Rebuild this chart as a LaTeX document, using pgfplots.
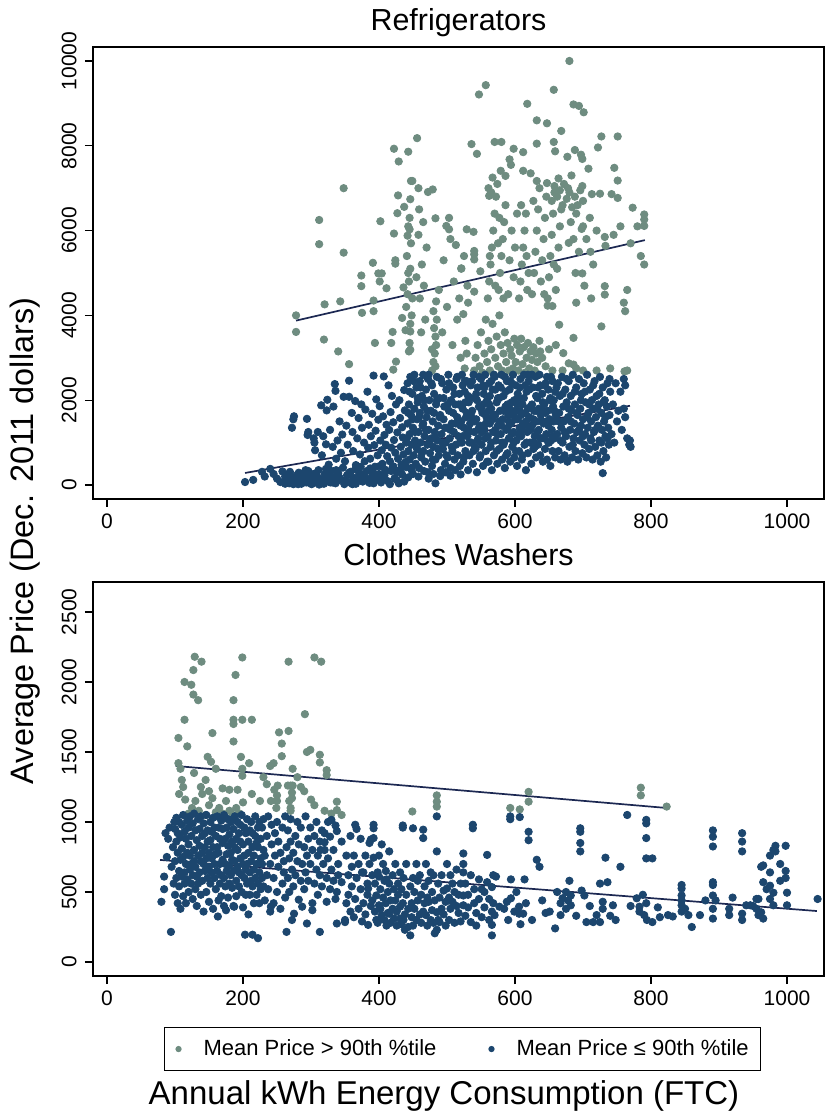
\documentclass[border=0pt]{standalone}
\usepackage{pgfplots}
\pgfplotsset{compat=1.18}
\usepackage{fontspec}
\setmainfont{Liberation Sans}
\definecolor{hi}{RGB}{110,140,128}
\definecolor{lo}{RGB}{28,70,110}
\definecolor{fit}{RGB}{28,40,82}
\pgfplotsset{
  panel/.style={scale only axis, width=365.5pt,
    xmin=-20.6, xmax=1054.4, xtick={0,200,...,1000},
    xtick pos=left, ytick pos=left, tick align=outside, major tick length=4pt,
    tick style={black, line width=0.6pt}, axis line style={line width=0.8pt},
    tick label style={font=\fontsize{10.5}{12}\selectfont},
    /pgf/number format/assume math mode=true, /pgf/number format/1000 sep={},
    scaled ticks=false,
    yticklabel style={rotate=90, anchor=south, inner sep=0pt},
    xticklabel style={anchor=north, inner sep=0pt},
    xticklabel shift=3pt, yticklabel shift=4pt,
    every axis title/.style={at={(0.5,1)}, anchor=base, yshift=8.2pt, font=\fontsize{15.2}{18}\selectfont},
  },
  himark/.style={only marks, mark=*, mark size=1.85pt, color=hi},
  lomark/.style={only marks, mark=*, mark size=1.85pt, color=lo},
  fitline/.style={no marks, draw=fit, line width=0.85pt, forget plot},
}
\begin{document}
\begin{tikzpicture}
\useasboundingbox (0,0) rectangle (412.5pt,557pt);
% ---------------- Refrigerators ----------------
\begin{axis}[panel, at={(46.5pt,533.5pt)}, anchor=north west, height=226pt,
  ymin=-330, ymax=10330, ytick={0,2000,...,10000}, title={Refrigerators}]
\addplot[himark] coordinates {
(278,4000)(278,3610)(312,6250)(312,5680)(320,4260)(319,3430)(340,3150)(348,7000)(348,5480)(356,2850)(343,4330)(375,4060)(392,4100)(394,3350)(374,4940)(374,4690)(391,5240)(392,4350)(399,4990)(404,4990)(401,4800)(411,4640)(402,6220)(418,3350)(420,3610)(425,2910)(434,3940)(439,3650)(421,2720)(422,7930)(429,7630)(443,7860)(447,7170)(428,6830)(437,6560)(446,6740)(427,6410)(422,5930)(442,5880)(445,6030)(424,5220)(424,5300)(436,4660)(445,3350)(446,3190)(446,3620)(444,3150)
(449,7170)(456,8180)(458,7000)(472,6910)(479,6970)(459,6500)(483,6290)(503,6300)(499,6110)(503,6030)(529,6030)(539,5970)(513,5660)(521,5110)(540,5520)(540,5320)(549,5040)(540,4560)(521,5100)(540,5440)
(536,8040)(544,7810)(547,9210)(557,9430)(570,8090)(580,8090)(592,7680)(594,7550)(579,7410)(586,7290)(567,7250)(561,7000)(562,6820)(598,7930)(612,7850)(618,8990)(612,7410)(623,7350)(632,7170)(632,8600)(647,8530)(632,8050)(657,8090)(659,7870)(657,9320)(668,8350)(647,7120)(664,7230)(683,7300)(699,7050)(677,7740)(688,7900)(697,7790)(699,7690)(680,10000)(686,8975)(694,8940)(701,8790)(727,8220)(751,8220)(722,7960)(746,7480)(751,7180)(708,7460)(713,6860)(725,6870)(742,6860)(751,6770)(773,6540)(790,6380)(790,6260)(790,6110)(790,5200)(732,5850)(733,5640)(698,6040)(679,5710)(711,5500)(689,5000)(699,4990)(732,4690)(732,4490)
(478,2700)(480,2900)(482,3100)(484,3300)(483,3500)(481,3700)(485,3900)(480,4100)(484,4330)(478,3200)(483,2800)
(524,4030)(527,3400)(529,3100)(531,4300)(526,2750)
(637,3150)(648,4230)(655,4220)(665,3780)(671,3110)(679,2870)(686,3470)(686,2840)(727,3740)(761,2680)
(540,2700)(542,3000)(545,3300)(548,2800)(550,3600)(552,2650)(555,3100)(557,3900)(559,2900)(561,3400)(563,2700)(565,3200)(567,3800)(569,2600)(571,3000)(573,3500)(575,2800)(577,4000)(579,3300)(581,2700)(583,3100)(585,3600)(587,2900)(589,3350)(591,2700)(593,3200)(595,3050)(597,2750)(599,3450)(601,2900)(603,3300)(605,2700)(607,3150)(609,3450)(611,2850)(613,3250)(615,2650)(617,3000)(619,3350)(621,2750)(623,3150)(625,2950)(627,3250)(629,2700)(631,3100)(633,2900)(636,3400)(640,3000)(645,2800)(650,3200)(655,2700)(660,3300)(670,2700)(690,2750)(700,2700)(720,2700)(740,2750)(765,2700)
(440,4200)(442,4500)(444,4800)(446,5100)(441,5400)(447,5700)(443,6100)(445,6300)(448,4000)(446,3800)(449,4400)(443,5000)
(455,4900)(460,4400)(463,5200)(466,4700)(468,3900)(470,5600)(458,5900)(465,6200)(462,3600)
(488,4600)(495,5300)(500,4200)(505,5800)(510,4800)(515,3900)(518,4400)(525,5400)(530,4700)(493,3600)(508,3300)(520,3000)
(560,4400)(562,4800)(564,5200)(566,5600)(568,6000)(570,6400)(572,6800)(574,7100)(576,4600)(578,5000)(580,5400)(582,5800)(584,6200)(586,6600)(563,5400)(571,4700)(577,6300)(583,4400)(565,6900)(575,5700)
(590,4500)(592,5300)(595,6000)(598,4900)(600,5600)(603,6400)(606,4400)(608,4800)(610,5200)(612,5600)(614,6000)(616,6400)(618,4600)(620,5000)(609,6600)(617,5400)
(625,4500)(628,5000)(630,5500)(632,6000)(634,6500)(636,7000)(638,4800)(640,5300)(642,5800)(644,6300)(646,6800)(648,4400)(650,4900)(652,5400)(654,5900)(656,6400)(658,6900)(660,4600)(662,5100)(664,5600)(666,6100)(627,6700)(643,4500)(657,5200)
(654,6700)(658,7050)(662,6800)(666,6950)(670,6600)(672,7100)(676,6750)(680,6900)(684,6550)(688,6800)(692,6600)(696,6950)(700,6700)(668,6500)(678,7000)
(682,6200)(686,5800)(690,6400)(694,5500)(700,6100)(705,5800)(710,6300)(715,5200)(720,6000)(702,4700)(712,4400)(690,4300)
(745,5900)(755,6100)(760,4300)(765,4600)(770,5700)(780,6100)(785,5400)(762,4100)
};
\addplot[lomark] coordinates {
(203,70)(215,120)(228,310)(232,200)(240,380)(245,260)(250,150)(255,70)(258,320)(262,200)
(265,100)(268,40)(270,220)(272,1350)(274,1550)(275,1620)(276,160)(279,60)(282,290)(284,130)(286,30)(288,210)(290,80)(292,350)(294,1560)(295,1180)(296,1250)(297,150)(299,40)(300,260)
(302,120)(304,1100)(305,1000)(306,820)(307,60)(309,200)(310,1250)(311,350)(313,100)(315,1880)(316,700)(318,1150)(319,30)(320,240)(322,960)(323,1760)(324,2010)(325,140)(326,480)(328,1300)(329,60)(330,330)(332,900)(333,1850)(334,180)(335,2380)(336,2220)(337,620)(338,90)(339,1050)
(262,30)(266,250)(271,90)(277,180)(281,20)(287,140)(293,60)(298,230)(303,50)(308,160)(312,10)(317,120)(321,260)(327,70)(331,190)(336,40)(340,280)(346,110)(349,20)(353,230)(357,60)(362,170)(366,30)(371,290)(374,100)(379,200)(386,50)(391,310)(397,140)(403,60)(408,230)(413,90)(418,330)(423,160)(429,40)(434,250)
(264,150)(269,310)(274,20)(280,240)(285,70)(291,180)(296,330)(301,20)(306,270)(311,150)(316,40)(322,380)(326,200)(332,60)(337,350)(342,170)(347,410)(351,90)(356,290)(361,20)(365,370)(369,140)(373,430)(377,250)(382,120)(387,390)(392,40)(395,230)(400,440)(405,150)(410,330)(416,20)(421,440)(426,120)(431,350)(437,80)(440,420)
(342,1500)(344,760)(346,1190)(348,2080)(350,560)(352,1400)(354,950)(356,2460)(356,2080)(358,310)(360,1700)(361,1250)(362,800)(364,150)(365,1980)(366,470)(368,1100)(370,1580)(371,250)(372,720)(374,1900)(375,1350)(376,80)(378,1000)(379,560)(380,1780)(382,330)(383,2200)(384,880)(385,1420)(387,620)(388,1150)(389,180)(390,1680)(392,2580)(393,940)(394,430)(395,1280)(396,2020)(398,700)(399,1540)(400,260)(401,1860)(402,1050)(404,820)(405,500)(406,1620)(407,2560)(408,1180)(409,360)(410,950)(411,1420)(412,680)(414,2350)(415,1300)(416,560)(417,1720)(418,880)(419,2100)(420,420)(421,1480)(422,1060)(424,760)(425,1900)(426,300)(427,1240)(428,620)(430,2000)(431,1580)(432,900)(433,480)(434,1360)(435,1120)(436,720)(437,2240)(438,1760)(439,540)(440,1000)
(442,1450)(442,2400)(443,800)(444,1900)(445,1200)(445,600)(446,2550)(447,1650)(448,950)(448,350)(449,2150)(450,1350)(451,700)(452,1800)(452,2600)(453,1050)(454,500)(455,2300)(456,1550)(456,850)(457,1950)(458,1250)(459,400)(460,2450)(460,1700)(461,1000)(462,650)(463,2100)(464,1400)(465,2600)(465,800)(466,1850)(467,1150)(468,550)(469,2250)(470,1600)(471,950)(472,2500)(472,300)(473,1300)(474,2000)(475,750)(476,1750)(477,1100)(478,2350)(478,450)(479,1500)(480,900)(481,2150)(482,1250)(483,40)(483,600)(484,1900)(485,2550)(486,1050)(487,1400)(488,700)(489,2050)(490,1650)(491,350)(492,1200)(493,2400)(494,850)(495,1550)(496,1850)(497,500)(498,1000)(499,2250)(500,1350)(501,650)(502,2600)(503,1750)(504,1100)(505,400)(506,2000)(507,1450)(508,800)(509,2300)(510,1250)(511,600)(512,1900)(513,950)(514,2500)(515,1600)(516,700)(517,1150)(518,2150)(519,450)(520,1400)
(441,1100)(443,1700)(445,2200)(447,400)(449,1550)(451,2450)(453,1250)(455,900)(457,2050)(459,1600)(461,2300)(463,750)(465,1450)(467,2000)(469,1300)(471,1750)(473,2600)(475,1050)(477,2400)(479,600)(481,1700)(483,1100)(485,2000)(487,850)(489,1600)(491,2500)(493,1000)(495,2050)(497,1350)(499,700)(501,1900)(503,2400)(505,1300)(507,900)(509,1700)(511,2150)(513,1450)(515,2550)(517,1900)(519,1000)
(443,180)(450,260)(458,200)(466,330)(473,150)(480,260)(490,210)(498,300)(505,220)(512,350)(520,250)
(522,2600)(522,1000)(523,1800)(524,550)(525,1350)(526,2200)(527,800)(528,1600)(529,2450)(530,1150)(531,350)(532,1950)(533,700)(534,1450)(535,2350)(536,1000)(537,1750)(538,500)(539,2600)(540,1250)(541,2050)(542,850)(543,1550)(544,300)(545,2300)(546,1100)(547,1850)(548,650)(549,1400)(550,2500)(551,950)(552,1700)(553,450)(554,2150)(555,1300)(556,2600)(557,800)(558,1600)(559,2000)(560,1150)(561,550)(562,2400)(563,1450)(564,900)(565,1800)(566,350)(567,2250)(568,1250)(569,700)(570,2550)(571,1650)(572,1050)(573,1950)(574,500)(575,1400)(576,2350)(577,850)(578,1750)(579,1200)(580,2600)(581,600)(582,1550)(583,2100)(584,1000)(585,400)(586,1850)(587,1300)(588,2450)(589,750)(590,1650)(591,1100)(592,2250)(593,550)(594,1450)(595,1950)(596,900)(597,2600)(598,1250)(599,650)(600,1750)(601,2350)(602,1050)(603,450)(604,1550)(605,2050)(606,800)(607,1350)(608,2500)(609,1150)(610,600)(611,1900)(612,1450)(613,2600)(614,950)(615,1700)(616,350)(617,2200)(618,1250)(619,750)(620,2450)(621,1600)(622,1000)(623,1850)(624,500)(625,1400)(626,2300)(627,850)(628,1750)(629,1150)(630,2550)(631,650)(632,1500)(633,2050)(634,950)(635,1300)(636,2600)(637,700)(638,1650)(639,1100)(640,2150)(641,550)(642,1450)(643,1900)(644,850)(645,2400)(646,1200)(647,600)(648,1750)(649,2250)(650,1000)(651,1550)(652,450)(653,2550)(654,1300)(655,800)(656,1850)(657,2000)(658,1100)(659,650)(660,1650)
(521,1500)(523,2350)(525,650)(527,1950)(529,1200)(531,2100)(533,1000)(535,1650)(537,2450)(539,800)(541,1500)(543,2150)(545,1050)(547,2550)(549,700)(551,1250)(553,1900)(555,2300)(557,1450)(559,550)(561,1750)(563,2100)(565,1000)(567,1550)(569,2600)(571,1300)(573,800)(575,2050)(577,1500)(579,2300)(581,1000)(583,1750)(585,2550)(587,700)(589,1900)(591,1500)(593,2450)(595,1200)(597,1650)(599,2000)(601,800)(603,1900)(605,1200)(607,2300)(609,1650)(611,700)(613,1400)(615,2350)(617,1000)(619,1800)(621,2250)(623,1300)(625,2600)(627,1550)(629,900)(631,2100)(633,1250)(635,1800)(637,2350)(639,1500)(641,1950)(643,1100)(645,1700)(647,2550)(649,1400)(651,2000)(653,1050)(655,2450)(657,1500)(659,2200)
(520,1900)(523,1150)(526,2450)(529,1700)(532,1300)(535,2050)(538,1550)(541,900)(544,2000)(547,1350)(550,1800)(553,2350)(556,1100)(559,1450)(562,1900)(565,2450)(568,1650)(571,2250)(574,1200)(577,2050)(580,1400)(583,950)(586,2200)(589,1350)(592,1800)(595,2400)(598,1000)(601,1550)(604,2150)(607,1750)(610,1300)(613,2050)(616,1500)(619,2600)(622,1350)(625,1900)(628,1000)(631,1750)(634,2300)(637,1100)(640,1750)(643,2350)(646,1500)(649,1000)(652,2050)(655,1150)(658,1750)(661,2300)(664,1500)(667,1050)(670,2150)(673,1250)(676,2500)(679,1800)(682,1500)(685,950)(688,2200)(691,1700)(694,1300)(697,2000)(700,1150)(703,2200)(706,1600)(709,1900)(712,1050)(715,2350)(718,1300)(721,1800)(724,2150)(727,1000)(730,1950)(733,1600)(736,1100)(739,2500)
(662,1200)(663,2400)(664,800)(665,1700)(666,2100)(667,600)(668,1350)(669,2550)(670,1000)(671,1850)(672,1500)(673,700)(674,2250)(675,1150)(676,1950)(677,550)(678,1600)(679,2450)(680,900)(681,1300)(682,2100)(683,1750)(684,650)(685,2600)(686,1100)(687,1450)(688,1900)(689,800)(690,2300)(691,1250)(692,1650)(693,600)(694,2500)(695,1050)(696,1800)(697,1400)(698,2150)(699,750)(700,1550)(701,2400)(702,950)(703,1200)(704,1950)(705,650)(706,2600)(707,1350)(708,1700)(709,850)(710,2250)(711,1100)(712,1500)(713,2000)(714,600)(715,1800)(716,1250)(717,2450)(718,900)(719,1600)(720,2100)(721,700)(722,1400)(723,1900)(724,1050)(725,2550)(726,550)(727,1700)(728,1300)(729,280)(729,2300)(730,800)(731,1500)(732,2000)(733,1150)(734,650)(735,1850)(736,2400)(737,1350)(738,950)(739,1650)(740,2200)
(742,1200)(744,1900)(746,1000)(748,2400)(750,1500)(752,1750)(755,2200)(757,1300)(760,2500)(760,1800)(762,2350)(762,1600)(765,1100)(768,950)(769,1050)(770,900)
};
\addplot[fitline] coordinates {(278,3877)(791,5775)};
\addplot[fitline] coordinates {(203,284)(769,1868)};
\end{axis}
% ---------------- Clothes Washers ----------------
\begin{axis}[panel, at={(46.5pt,266pt)}, anchor=north west, height=197pt,
  ymin=-100, ymax=2714, ytick={0,500,...,2500}, title={Clothes Washers},
  legend columns=2,
  legend image code/.code={\draw[#1,mark size=1.25pt] plot coordinates {(0pt,0pt)};},
  legend style={at={(0.5053,-0.1294)}, anchor=north, draw=black, line width=0.6pt,
    font=\fontsize{11}{13}\selectfont, inner xsep=5.9pt, inner ysep=6pt,
    nodes={inner sep=0pt},
    /tikz/every odd column/.append style={column sep=11.25pt},
    /tikz/every even column/.append style={column sep=26.25pt}},
  legend cell align=left]
\addplot[himark] coordinates {
(129,2180)(139,2145)(127,2085)(114,2000)(124,1980)(127,1910)(134,1870)(199,2175)(189,2050)(267,2145)(305,2175)(315,2145)(186,1870)(114,1730)(186,1730)(186,1700)(199,1730)(213,1730)(291,1770)(155,1635)(105,1600)(118,1540)(186,1575)(253,1640)(267,1650)(257,1560)(257,1470)(197,1465)(209,1420)(148,1465)(153,1430)(294,1500)(299,1515)(313,1480)(313,1425)(323,1370)(323,1335)(105,1420)(108,1380)(110,1300)(112,1250)(106,1200)(115,1160)(180,1230)(192,1230)(199,1380)(199,1330)(213,1200)(246,1230)(251,1260)(250,1190)(250,1150)(266,1260)(270,1260)(273,1260)(272,1210)(272,1170)(268,1150)(273,1380)(241,1150)(249,1100)(270,1080)(270,1100)(338,1145)(338,1085)(485,1190)(485,1145)(485,1110)(449,1075)(593,1100)(607,1090)(620,1215)(620,1145)(785,1245)(785,1190)(823,1110)
(120,1060)(125,1100)(130,1150)(135,1080)(140,1200)(145,1050)(150,1120)(155,1170)(160,1070)(165,1100)(170,1060)(175,1150)(180,1080)(185,1050)(190,1100)(195,1060)(200,1140)(138,1250)(145,1300)(160,1380)(128,1350)(170,1240)(150,1220)
(230,1320)(235,1270)(225,1150)(240,1400)(245,1420)(280,1320)(285,1250)(290,1220)(300,1160)(305,1120)(330,1060)(320,1080)(345,1050)
};
\addlegendentry{Mean Price > 90th \%tile}
\addplot[lomark] coordinates {
(80,430)(84,610)(84,520)(94,215)(88,750)(90,880)(92,960)(95,680)(97,820)(99,1000)(98,560)(86,920)
(100,720)(100,950)(100,480)(102,860)(102,600)(102,1030)(104,780)(104,420)(104,920)(106,650)(106,1000)(106,540)(108,890)(108,730)(108,380)(110,610)(110,980)(110,810)(112,750)(112,470)(112,1050)(114,930)(114,640)(114,560)(116,700)(116,880)(116,420)(118,1010)(118,590)(118,780)(120,840)(120,500)(120,960)(122,660)(122,760)(122,1040)(124,560)(124,900)(124,700)(126,990)(126,620)(126,450)(128,800)(128,720)(128,1060)(130,520)(130,940)(130,680)(132,870)(132,610)(132,400)(134,760)(134,1020)(134,560)(136,640)(136,830)(136,950)(138,1040)(138,480)(138,720)(140,580)(140,900)(140,780)(142,700)(142,360)(142,990)(144,920)(144,650)(144,820)(146,500)(146,1050)(146,740)(148,860)(148,600)(148,940)(150,680)(150,780)(150,430)
(152,1000)(152,560)(152,870)(154,740)(154,930)(154,640)(156,380)(156,820)(156,1030)(158,600)(158,700)(158,960)(160,900)(160,520)(160,770)(162,650)(162,1040)(162,820)(164,780)(164,440)(164,960)(166,560)(166,880)(166,700)(168,1010)(168,620)(168,470)(170,730)(170,850)(170,950)(172,600)(172,1050)(172,400)(174,880)(174,700)(174,540)(176,770)(176,960)(176,650)(178,460)(178,1020)(178,830)(180,690)(180,560)(180,910)(182,1000)(182,780)(182,620)(184,530)(184,860)(184,730)(186,950)(186,650)(186,400)(188,720)(188,1040)(188,820)(190,580)(190,880)(190,470)
(192,800)(192,1000)(192,680)(194,640)(194,540)(194,920)(196,980)(196,740)(196,860)(198,500)(198,620)(198,1050)(200,840)(200,700)(200,390)(202,600)(202,960)(202,760)(204,920)(204,480)(204,660)(206,700)(206,1020)(206,560)(208,860)(208,340)(208,780)(210,640)(210,940)(210,480)(212,1000)(212,720)(212,580)(214,540)(214,820)(214,920)(216,760)(216,420)(216,660)(218,900)(218,1040)(218,600)(220,480)(220,700)(220,850)(222,820)(222,560)(222,960)(224,640)(224,1000)(224,420)(226,740)(226,880)(226,520)(228,960)(228,600)(228,700)(230,540)(230,800)(230,1020)
(163,325)(175,370)(187,395)(203,195)(214,195)(222,170)(245,420)(241,395)
(232,760)(232,440)(235,900)(235,620)(237,1040)(237,520)(240,700)(240,360)(242,840)(242,980)(245,600)(247,760)(247,920)(250,500)(250,1000)(252,680)(252,860)(255,380)(255,780)(258,960)(258,560)(260,720)(260,640)(262,1040)(262,460)(264,215)(264,820)(266,600)(266,940)(268,740)(268,500)(270,860)(270,1020)(272,300)(272,660)(274,780)(274,540)(275,345)(277,900)(277,620)(280,720)(280,1000)(282,445)(282,840)(285,580)(285,960)(287,395)(287,700)(290,820)(290,520)(292,1040)(292,640)(294,275)(294,760)(296,880)(296,580)(299,700)(299,960)
(302,420)(302,370)(302,800)(305,560)(305,900)(308,660)(308,1000)(310,760)(310,480)(313,215)(313,620)(313,860)(316,940)(316,540)(318,700)(320,920)(320,800)(320,855)(314,800)(323,430)(323,600)(325,1000)(325,740)(328,895)(328,520)(330,1015)(330,660)(333,580)(333,800)(336,975)(336,450)(338,275)(338,935)(338,500)(340,700)(340,620)(345,570)(345,860)(350,285)(350,300)
(352,760)(352,420)(355,620)(355,480)(358,900)(358,360)(360,540)(360,680)(363,320)(363,760)(365,450)(365,980)(367,950)(367,600)(370,380)(370,700)(373,520)(373,880)(375,290)(375,640)(377,640)(377,420)(380,760)(380,340)(383,560)(383,480)(384,265)(384,525)(386,700)(386,850)(388,875)(388,400)(390,440)(390,620)(392,980)(392,955)(392,885)(392,745)(394,360)(394,560)(396,475)(396,300)(398,640)(398,280)(400,300)(400,405)(400,610)(400,760)(402,520)(402,380)(404,335)(404,840)(406,460)(406,700)(408,580)(408,300)(410,420)(410,650)(411,590)(411,260)(413,350)(413,500)(415,345)(415,790)(415,560)(417,440)(417,280)(420,620)(420,380)(422,310)(422,520)(424,700)(424,440)(426,260)(426,360)(428,560)(428,480)
(431,310)(431,395)(431,640)(433,520)(433,270)(435,975)(435,960)(435,420)(436,300)(436,600)(438,230)(438,340)(440,480)(440,700)(443,250)(443,380)(446,190)(446,540)(448,320)(448,420)(450,955)(450,600)(450,260)(452,380)(452,500)(455,700)(455,300)(457,440)(457,580)(460,340)(460,620)(462,480)(462,280)(465,945)(465,885)(465,360)(467,540)(467,420)(469,335)(469,700)(471,260)(471,460)(473,430)(473,580)(476,300)(476,640)(478,500)(478,370)(480,620)(480,280)(482,205)(482,440)(485,355)(485,1040)(485,790)(485,230)(487,560)(487,300)(489,285)(489,460)(492,380)(492,620)(495,510)(495,340)(498,430)(498,260)(500,525)(500,700)(503,300)(503,460)(505,620)(505,380)(508,430)(508,560)(511,280)(511,500)(514,400)(514,660)(517,350)(517,480)(520,560)(520,290)
(524,475)(524,405)(524,700)(524,640)(524,775)(527,330)(527,560)(531,390)(531,480)(535,285)(535,620)(538,980)(538,955)(540,420)(540,520)(543,350)(543,260)(547,450)(547,590)(551,320)(551,520)(555,500)(555,390)(559,570)(559,765)(562,300)(562,450)(566,265)(566,190)(566,360)(566,535)(568,420)(568,620)
(570,335)(572,610)(577,395)(584,380)(588,430)(590,300)(593,1040)(593,1020)(594,590)(594,455)(599,360)(602,500)(606,395)(606,345)(607,1035)(608,270)(612,345)(614,590)(616,420)(620,930)(620,870)(625,300)(632,730)(636,680)(640,440)(645,350)(651,360)(659,240)(662,500)(667,335)(667,420)(670,455)(675,500)(675,380)(678,440)(680,580)(682,405)(682,475)(690,330)(696,955)(696,930)(696,850)(696,790)(698,510)(702,475)(705,285)(710,400)(715,285)(720,335)(725,285)(725,560)(729,380)(729,430)(733,745)(736,570)(740,330)(744,405)(748,300)(755,680)(765,1050)(770,400)(779,455)(783,395)(783,360)(788,480)(790,335)
(793,1015)(793,990)(793,885)(793,740)(793,420)(794,300)(802,285)(802,740)(810,390)(813,320)(825,335)(832,325)(845,475)(845,440)(845,405)(845,360)(845,525)(845,550)(850,380)(855,335)(860,250)(872,335)(880,440)(891,550)(891,475)(891,380)(891,310)(891,570)(891,940)(891,895)(891,825)(895,440)(915,380)(915,335)(920,460)(934,345)(934,300)(934,920)(934,860)(934,790)(940,405)(946,405)(950,400)(955,450)(955,380)(958,450)(958,335)(962,355)(962,680)(965,310)(965,690)(965,570)(970,520)(975,450)(975,545)(975,640)(975,760)(980,495)(980,405)(980,800)(983,830)(983,790)(990,580)(990,700)(998,830)(998,650)(998,600)(1000,495)(1000,405)(1045,450)
};
\addlegendentry{Mean Price ≤ 90th \%tile}
\addplot[fitline] coordinates {(101,1400)(823,1100)};
\addplot[fitline] coordinates {(78,729)(1044,364)};
\end{axis}
\node[rotate=90, anchor=base, font=\fontsize{16.2}{19}\selectfont] at (16.5pt,286.5pt) {Average Price (Dec. 2011 dollars)};
\node[anchor=base, font=\fontsize{16.5}{19}\selectfont] at (222pt,5pt) {Annual kWh Energy Consumption (FTC)};
\end{tikzpicture}
\end{document}
